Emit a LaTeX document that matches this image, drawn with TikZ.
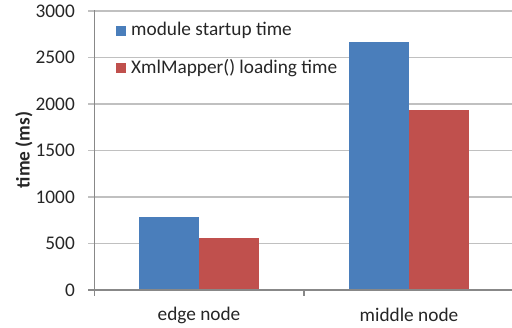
\documentclass[tikz,border=0pt]{standalone}
\usepackage{fontspec}
\setmainfont{Carlito}
\definecolor{barblue}{HTML}{4A7EBB}
\definecolor{barred}{HTML}{C0504D}
\definecolor{gridgray}{HTML}{C0C0C0}
\definecolor{axisgray}{HTML}{888888}
\begin{document}
\begin{tikzpicture}[x=1pt,y=1pt,
  lbl/.style={font=\fontsize{19.3}{23}\selectfont, inner sep=0pt, text=black!85},
  gridline/.style={gridgray, line width=1.1pt},
  axisline/.style={axisgray, line width=1.1pt},
  swatch/.style={inner sep=0pt, minimum size=10pt}]
\useasboundingbox (0,0) rectangle (512,328);
% value v maps to y = 38 + v*0.093
% horizontal grid lines with their tick stubs
\foreach \v in {500,1000,...,3000}
  \draw[gridline] (88,{38+\v*0.093}) -- (512,{38+\v*0.093});
% y tick labels
\foreach \v in {0,500,1000,...,3000}
  \node[lbl, anchor=east] (yl\v) at (75,{38+\v*0.093}) {\v};
% bars
\fill[barblue] (139,38) rectangle (199,{38+782*0.093});
\fill[barred]  (199,38) rectangle (259,{38+559*0.093});
\fill[barblue] (349,38) rectangle (409,{38+2663*0.093});
\fill[barred]  (409,38) rectangle (469,{38+1932*0.093});
% axes
\draw[axisline] (94.5,38) -- (94.5,317.5);
\draw[axisline] (88,38) -- (512,38);
\draw[axisline] (94.5,38) -- (94.5,32);
\draw[axisline] (304,38) -- (304,32);
% category labels
\node[lbl] (cat1) at (199,13) {edge node};
\node[lbl] (cat2) at (409,13) {middle node};
% axis title
\node[lbl, rotate=90, font=\fontsize{19.3}{23}\selectfont\bfseries] (ytitle) at (24,178) {time (ms)};
% legend
\node[swatch, fill=barblue] (sw1) at (120.5,297) {};
\node[lbl, anchor=west] (lg1) at (131,298) {module startup time};
\node[swatch, fill=barred] (sw2) at (120.5,259.5) {};
\node[lbl, anchor=west] (lg2) at (131,260) {XmlMapper() loading time};
\end{tikzpicture}
\end{document}
